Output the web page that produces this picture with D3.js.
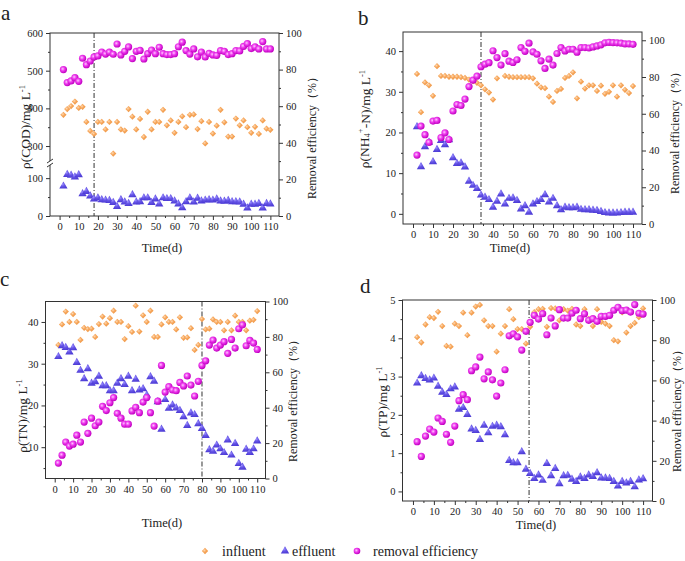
<!DOCTYPE html>
<html>
<head>
<meta charset="utf-8">
<title>removal efficiency</title>
<script src="https://cdn.jsdelivr.net/npm/d3@7"></script>
<style>
body { margin: 0; background: #fff; }
.tick line { stroke: #333; }
</style>
</head>
<body>
<svg id="chart" width="685" height="561"></svg>
<script>
// sampling days (every 2 days)
var days = [2,4,6,8,10,12,14,16,18,20,22,24,26,28,30,32,34,36,38,40,42,44,46,48,50,52,54,56,58,60,
  62,64,66,68,70,72,74,76,78,80,82,84,86,88,90,92,94,96,98,100,102,104,106,108,110];

// a - COD (mg/L, %)
var codInfluent = [383,398,406,418,401,404,364,340,332,364, 364,344,364,280,364,344,341,398,378,344,
  372,324,391,344,364,364,396,355,368,335, 364,379,350,383,384,345,366,307,364,333,
  354,396,363,325,325,373,355,368,350,335, 351,332,368,346,343];
var codEffluent = [80,111,109,104,110,60,66,54,46,49, 44,43,42,37,26,44,38,34,57,38,
  39,49,49,37,46,33,49,47,47,41, 33,23,39,49,38,48,41,43,44,43,
  46,41,40,42,39,39,38,32,22,32, 32,34,22,34,33];
var codRemoval = [80,72.9,73.8,75.6,73.6,86.2,82.7,84.7,86.9,87.5, 89.6,88.5,89.5,88.4,94,88,90,92.4,86,90,
  90.5,85.8,88.7,90.7,88.7,92.2,88.7,88.2,88.2,88.7, 92.5,95,90.4,88.5,91.3,87,89.6,86.9,88.9,88,
  87.8,90.4,90,88.2,88.7,90.4,90.2,92.7,94.2,91.5, 92.4,91.3,95.3,91.3,91.3];

// b - NH4+-N
var nh4Influent = [34.4,25,32.3,31.6,29,36.3,33.9,33.9,33.7,33.7, 33.7,33.6,33.4,33,32.6,32.2,31.6,30.6,29.8,28.1,
  33.3,null,33.9,33.7,33.6,33.6,33.6,33.6,33.6,33.3, 32,31.1,30.9,28.8,27.5,30.2,30.7,33.4,33.9,34.8,
  28.4,32.5,30.8,31.6,31.6,30.2,31.5,29.5,30,31.6, 28.8,31.6,30.5,29.7,31.4];
var nh4Effluent = [21.5,11.7,16.6,17.7,12.9,15.9,18.1,17.1,18.3,13.9, 12.5,12.6,11.6,8.1,7.1,6.3,4.7,4.2,3.6,1.7,
  3.2,5.0,2.5,3.9,4.0,3.4,1.3,2.1,0.5,2.5, 3.1,3.6,4.8,3.0,3.9,2.1,1.1,1.7,1.6,1.6,
  1.7,1.2,1.1,1.1,1.0,0.9,0.7,0.4,0.3,0.3, 0.3,0.4,0.5,0.5,0.5];
var nh4Removal = [37.5,53.3,48.6,44.4,56,56.4,47,49.6,46,61.5, 65,64.5,68,74.8,78.3,80.5,85.6,87,87.8,94.3,
  90.6,86.5,92.7,88.6,87.9,89.4,96,94,98.4,93.7, 92.4,88.8,84.7,89.7,86.5,92.8,96,94.2,95.1,95.1,
  93.5,96,96,95.8,96.4,96.9,97.5,98.6,98.9,98.7, 98.6,98.4,98,98,97.8];

// c - TN
var tnInfluent = [34.5,39.4,42.5,40,41.9,40,35.7,38.6,38.3,38.4, 36.4,39.5,41.3,39.6,40.9,42.7,40,40,35.9,39,
  37.6,43.9,37.7,41.6,40,42.7,36.4,36.4,39.4,41.1, 40,40,38.2,41.1,36.2,36.3,38.5,33.3,34.5,40.7,
  38.2,38.4,40.6,40,40,38,40,38,41.5,40, 40,38,40.3,40.5,42.6];
var tnEffluent = [31.8,34.4,34,32.9,33.9,30.4,28.5,26.5,28.9,25.4, 25.8,27.1,24.8,24.8,23.6,23.6,25.4,26.5,25.1,27.1,
  23.6,26.4,23.8,24.1,22.6,27,25.9,21,14.4,21.5, 19.4,20.2,19.5,18.9,17.4,15.3,18.3,17.9,15.7,14.6,
  12.9,9.5,9.1,10.6,9.7,8.8,11.8,8.2,11,6.2, 5.3,9.6,8.8,9.7,11.6];
var tnRemoval = [8.7,13.2,20.6,18.3,19.4,24.5,20.6,31.9,25.5,34.1, 29.8,31.9,40.8,38.4,42.8,45.7,36.8,34.1,30.7,30.7,
  38.2,40.2,37.2,43.2,45.7,37.2,29.6,43.7,63.9,48.8, 51.9,50,49.6,54.3,52.3,57.9,52.8,46.6,54.9,63.9,
  66.5,75.4,78.2,73.7,75.4,77.3,70.7,78.6,73.7,84.6, 86.8,75,78,76.5,72.9];

// d - TP
var tpInfluent = [4.03,3.89,4.36,4.55,4.53,4.69,4.32,3.8,3.78,4.38, 4.32,4.67,4.08,4.67,4.83,4.87,4.47,4.32,4.32,3.65,
  4.12,4.32,4.76,4.5,4.24,4.24,3.86,4.3,4.68,4.76, 4.77,4.3,4.79,4.78,4.47,4.76,4.72,4.77,4.36,4.32,
  4.76,4.51,4.32,4.76,4.43,4.38,4.32,3.95,3.92,4.68, 4.15,4.32,4.4,4.55,4.78];
var tpEffluent = [2.84,3.03,2.96,2.92,2.97,2.76,2.6,2.54,2.69,2.74, 2.16,2.2,2.02,1.64,1.6,1.37,1.74,1.54,1.71,1.74,
  1.7,1.49,0.82,0.76,0.76,1.05,0.59,0.48,0.35,0.44, 0.3,0.74,0.42,0.61,0.21,0.42,0.43,0.33,0.27,0.39,
  0.35,0.44,0.4,0.5,0.36,0.36,0.35,0.27,0.15,0.27, 0.23,0.27,0.13,0.31,0.34];
var tpRemoval = [29.5,22.2,32.3,35.8,34.3,41.3,39.6,33.2,29.2,37.3, 49.9,52.9,50.4,64.8,66.7,71.6,60.8,64.2,60.3,52.2,
  58.7,65.3,82.2,83.2,81.7,75.1,84.4,88.9,92.4,90.5, 93.2,82.7,91,87.1,95.2,91,91,93.4,94.9,90.7,
  93.1,89.9,90.7,89.4,91.9,91.9,92.4,94.9,96.4,94.7, 95,94,97.7,93.4,93];

var xTicks = [0,10,20,30,40,50,60,70,80,90,100,110];
var xMinor = [5,15,25,35,45,55,65,75,85,95,105];
var rTicks = [0,20,40,60,80,100];
var rMinor = [10,30,50,70,90];
var legendNames = ["influent", "effluent", "removal efficiency"];

var FONT = "'Liberation Serif', serif";
var svg = d3.select("#chart");
var defs = svg.append("defs");

function grad(id, c0, c1, c2) {
  var g = defs.append("radialGradient").attr("id", id).attr("cx", "40%").attr("cy", "40%").attr("r", "60%");
  g.append("stop").attr("offset", "0%").attr("stop-color", c0);
  g.append("stop").attr("offset", "45%").attr("stop-color", c1);
  g.append("stop").attr("offset", "100%").attr("stop-color", c2);
}
grad("gOrange", "#ffd9b0", "#f7a85e", "#ee9440");
grad("gBlue", "#9c90ff", "#6655e6", "#4d3cd6");
grad("gPink", "#ffc8ff", "#ee3cee", "#c000c0");

var diamond = d3.symbol().type(d3.symbolDiamond2).size(25);
var triangle = d3.symbol().type(d3.symbolTriangle).size(30);

// serif text everywhere, set inline
function serif(sel, size) {
  return sel.style("font-family", FONT).style("font-size", size + "px").style("fill", "#222");
}
function axisFont(sel) {
  serif(sel.selectAll("text"), 10.5);
}

function drawPanel(p) {
  var g = svg.append("g");
  var x = d3.scaleLinear().domain([-5, 114.5]).range([p.left, p.right]);
  var yL = d3.scaleLinear().domain(p.yDomain).range(p.yRange);
  var yR = d3.scaleLinear().domain(p.rDomain).range([p.bottom, p.top]);

  // axes
  g.append("g").attr("transform", "translate(0," + p.bottom + ")")
    .call(d3.axisBottom(x).tickValues(xTicks).tickSize(4).tickPadding(3)).call(axisFont);
  g.append("g").attr("transform", "translate(0," + p.bottom + ")")
    .call(d3.axisBottom(x).tickValues(xMinor).tickSize(2).tickFormat(""));
  g.append("g").attr("transform", "translate(" + p.left + ",0)")
    .call(d3.axisLeft(yL).tickValues(p.yTicks).tickSize(4).tickPadding(3).tickFormat(d3.format("d"))).call(axisFont);
  g.append("g").attr("transform", "translate(" + p.left + ",0)")
    .call(d3.axisLeft(yL).tickValues(p.yMinor).tickSize(2).tickFormat(""));
  g.append("g").attr("transform", "translate(" + p.right + ",0)")
    .call(d3.axisRight(yR).tickValues(rTicks).tickSize(4).tickPadding(3)).call(axisFont);
  g.append("g").attr("transform", "translate(" + p.right + ",0)")
    .call(d3.axisRight(yR).tickValues(rMinor).tickSize(2).tickFormat(""));
  g.selectAll(".domain").remove();

  g.append("rect").attr("x", p.left).attr("y", p.top)
    .attr("width", p.right - p.left).attr("height", p.bottom - p.top)
    .attr("fill", "none").attr("stroke", "#333").attr("stroke-width", 1);

  if (p.breakY) {
    g.append("rect").attr("x", p.left - 4).attr("y", p.breakY - 2).attr("width", 8).attr("height", 4).attr("fill", "#fff");
    [-2, 2].forEach(function (o) {
      g.append("line").attr("x1", p.left - 3).attr("x2", p.left + 3)
        .attr("y1", p.breakY + o + 2).attr("y2", p.breakY + o - 2)
        .attr("stroke", "#333").attr("stroke-width", 1);
    });
  }

  // dash-dot marker line
  g.append("line").attr("x1", x(p.mark)).attr("x2", x(p.mark))
    .attr("y1", p.top).attr("y2", p.bottom)
    .attr("stroke", "#333").attr("stroke-width", 1).attr("stroke-dasharray", "5,2,1,2");

  var inf = days.map(function (d, i) { return [d, p.influent[i]]; }).filter(function (d) { return d[1] != null; });
  var eff = days.map(function (d, i) { return [d, p.effluent[i]]; }).filter(function (d) { return d[1] != null; });
  var rem = days.map(function (d, i) { return [d, p.removal[i]]; });

  g.selectAll(".inf").data(inf).enter().append("path")
    .attr("d", diamond).attr("fill", "url(#gOrange)")
    .attr("transform", function (d) { return "translate(" + x(d[0]) + "," + yL(d[1]) + ")"; });
  g.selectAll(".eff").data(eff).enter().append("path")
    .attr("d", triangle).attr("fill", "url(#gBlue)")
    .attr("transform", function (d) { return "translate(" + x(d[0]) + "," + (yL(d[1]) + 0.5) + ")"; });
  g.selectAll(".rem").data(rem).enter().append("circle")
    .attr("r", 3.6).attr("fill", "url(#gPink)")
    .attr("cx", function (d) { return x(d[0]); })
    .attr("cy", function (d) { return yR(d[1]); });

  // titles
  var lt = serif(g.append("text").attr("transform", "translate(" + p.ltX + "," + p.ltY + ") rotate(-90)")
    .attr("text-anchor", "middle").attr("dominant-baseline", "central"), 13.5);
  p.leftTitle(lt);
  serif(g.append("text").attr("transform", "translate(" + p.rtX + "," + p.rtY + ") rotate(-90)")
    .attr("text-anchor", "middle").attr("dominant-baseline", "central"), 12)
    .text("Removal efficiency（%）");
  serif(g.append("text").attr("x", p.timeX).attr("y", p.timeY).attr("text-anchor", "middle"), 12.5)
    .text("Time(d)");
  serif(g.append("text").attr("x", p.labX).attr("y", p.labY), 21).text(p.label);
}

function plainTitle(s) {
  return function (t) {
    t.append("tspan").text(s);
    t.append("tspan").attr("dy", "-0.4em").style("font-size", "8.5px").text("-1");
  };
}

drawPanel({
  label: "a", labX: 1, labY: 20,
  left: 50, right: 279, top: 33, bottom: 216,
  yDomain: [0, 140, 255, 600], yRange: [216, 163, 163, 33],
  yTicks: [0, 100, 300, 400, 500, 600], yMinor: [50, 350, 450, 550],
  breakY: 163,
  rDomain: [0, 100], mark: 18,
  influent: codInfluent, effluent: codEffluent, removal: codRemoval,
  leftTitle: plainTitle("ρ(COD)/mg L"),
  ltX: 25, ltY: 127, rtX: 312, rtY: 135, timeX: 162, timeY: 252
});

drawPanel({
  label: "b", labX: 358, labY: 25,
  left: 403, right: 642, top: 32, bottom: 224,
  yDomain: [-2.5, 44.7], yRange: [224, 32],
  yTicks: [0, 10, 20, 30, 40], yMinor: [5, 15, 25, 35],
  rDomain: [0, 104.5], mark: 34,
  influent: nh4Influent, effluent: nh4Effluent, removal: nh4Removal,
  leftTitle: function (t) {
    t.append("tspan").text("ρ(NH");
    t.append("tspan").attr("dy", "0.3em").style("font-size", "8.5px").text("4");
    t.append("tspan").attr("dy", "-0.8em").style("font-size", "8.5px").text("+");
    t.append("tspan").attr("dy", "0.4em").text("-N)/mg L");
    t.append("tspan").attr("dy", "-0.4em").style("font-size", "8.5px").text("-1");
  },
  ltX: 364, ltY: 119, rtX: 675, rtY: 130, timeX: 510, timeY: 252
});

drawPanel({
  label: "c", labX: 0, labY: 286,
  left: 45.5, right: 265.5, top: 301.5, bottom: 478.5,
  yDomain: [2.5, 44.9], yRange: [478.5, 301.5],
  yTicks: [10, 20, 30, 40], yMinor: [5, 15, 25, 35],
  rDomain: [0, 100], mark: 80,
  influent: tnInfluent, effluent: tnEffluent, removal: tnRemoval,
  leftTitle: plainTitle("ρ(TN)/mg L"),
  ltX: 22, ltY: 416, rtX: 293, rtY: 398, timeX: 162, timeY: 527
});

drawPanel({
  label: "d", labX: 360, labY: 293,
  left: 402.5, right: 652.5, top: 300, bottom: 501,
  yDomain: [-0.25, 5], yRange: [501, 300],
  yTicks: [0, 1, 2, 3, 4, 5], yMinor: [0.5, 1.5, 2.5, 3.5, 4.5],
  rDomain: [0, 100], mark: 55.5,
  influent: tpInfluent, effluent: tpEffluent, removal: tpRemoval,
  leftTitle: plainTitle("ρ(TP)/mg L"),
  ltX: 382, ltY: 402, rtX: 677, rtY: 408, timeX: 536, timeY: 529
});

// legend
var lg = svg.append("g");
var legX = [205, 285, 357];
var legT = [222, 292, 373];
lg.append("path").attr("d", diamond).attr("fill", "url(#gOrange)").attr("transform", "translate(" + legX[0] + ",551)");
lg.append("path").attr("d", triangle).attr("fill", "url(#gBlue)").attr("transform", "translate(" + legX[1] + ",551)");
lg.append("circle").attr("r", 3.3).attr("fill", "url(#gPink)").attr("cx", legX[2]).attr("cy", 551);
legendNames.forEach(function (n, i) {
  serif(lg.append("text").attr("x", legT[i]).attr("y", 555.5), 14).text(n);
});
</script>
</body>
</html>
